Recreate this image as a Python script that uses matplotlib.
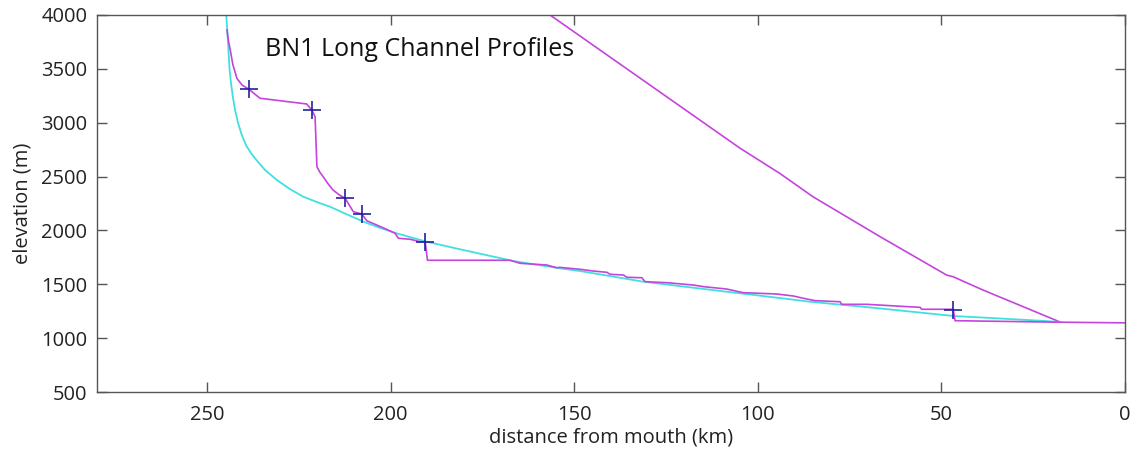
import matplotlib
matplotlib.use("Agg")
import matplotlib.pyplot as plt

plt.rcParams['font.family'] = ['Open Sans', 'DejaVu Sans']

# --- data (distance from mouth km, elevation m) ---
cyan_x = [244.8, 244.5, 244.2, 243.9, 243.5, 243.0, 242.4, 241.6, 240.6, 239.4,
          238.0, 236.5, 234.2, 231.0, 227.5, 223.8, 220.0, 216.5, 212.0, 207.4,
          203.0, 198.4, 190.2, 180.2, 166.6, 153.9, 148.4, 131.2, 108.5, 91.2,
          85.8, 68.5, 46.8, 23.1, 17.7]
cyan_y = [4000, 3850, 3675, 3500, 3366, 3240, 3118, 3000, 2890, 2790,
          2715, 2650, 2560, 2468, 2385, 2313, 2262, 2220, 2150, 2081,
          2025, 1973, 1895, 1818, 1716, 1648, 1623, 1524, 1431, 1361,
          1338, 1282, 1206, 1162, 1150]

chan_x = [244.6, 244.2, 243.7, 243.0, 241.9, 240.5, 238.6, 235.6, 230.1, 222.9,
          221.5, 220.6, 220.1, 219.3, 218.4, 217.0, 215.7, 214.0, 212.4, 210.2,
          207.9, 206.5, 203.8, 201.1, 198.8, 197.9, 194.7, 192.0, 190.6, 190.0,
          167.5, 164.8, 157.5, 154.8, 153.9, 148.4, 144.8, 141.1, 140.3, 136.6,
          135.7, 131.6, 130.7, 124.8, 117.6, 114.8, 108.5, 104.0, 94.9, 90.3,
          87.6, 84.4, 77.6, 77.2, 70.3, 62.2, 55.8, 55.4, 46.8, 46.3,
          17.7, 0.0]
chan_y = [3861, 3760, 3675, 3540, 3412, 3350, 3310, 3227, 3204, 3174,
          3118, 3056, 2592, 2540, 2499, 2430, 2375, 2330, 2298, 2174,
          2153, 2090, 2050, 2010, 1973, 1927, 1918, 1895, 1893, 1723,
          1723, 1695, 1679, 1654, 1657, 1639, 1623, 1611, 1593, 1586,
          1565, 1561, 1524, 1515, 1493, 1478, 1456, 1422, 1410, 1391,
          1370, 1348, 1338, 1314, 1314, 1298, 1286, 1268, 1268, 1162,
          1148, 1142]

upper_x = [156.6, 104.8, 94.0, 85.0, 66.7, 48.6, 46.8, 38.7, 17.7]
upper_y = [4000, 2762, 2529, 2313, 1942, 1586, 1570, 1447, 1150]

knick_x = [238.6, 221.5, 212.4, 207.9, 190.6, 46.8]
knick_y = [3310, 3118, 2298, 2150, 1893, 1261]

title = "BN1 Long Channel Profiles"
x_ticks = [250, 200, 150, 100, 50, 0]
y_ticks = [500, 1000, 1500, 2000, 2500, 3000, 3500, 4000]

MAG = '#c444dc'
CYAN = '#40e0e0'
fig = plt.figure(figsize=(11.44, 4.58), dpi=100)
ax = fig.add_axes([97/1144, 1-392/458, (1125-97)/1144, (392-15)/458])

ax.plot(upper_x, upper_y, color=MAG, lw=1.2)
ax.plot(cyan_x, cyan_y, color=CYAN, lw=1.3)
ax.plot(chan_x, chan_y, color=MAG, lw=1.2)
ax.plot(knick_x, knick_y, linestyle='none', marker='+', ms=13, mew=1.2, color='#22229e')

ax.set_xlim(280, 0)
ax.set_ylim(500, 4000)
ax.set_xticks(x_ticks)
ax.set_yticks(y_ticks)
ax.tick_params(direction='in', length=7, width=1, color='#555555',
               top=True, right=True, labelsize=14.5, colors='#222222')
ax.tick_params(axis='x', pad=9)
ax.tick_params(axis='y', pad=7)
for s in ax.spines.values():
    s.set_color('#555555')
    s.set_linewidth(1)
ax.set_xlabel("distance from mouth (km)", fontsize=14.5, color='#222222', labelpad=2)
ax.set_ylabel("elevation (m)", fontsize=14.5, color='#222222', labelpad=6)
fig.text(265/1144, 1-50/458, title, fontsize=18, va='center', ha='left', color='#111111')

fig.savefig("out.png", dpi=100)
